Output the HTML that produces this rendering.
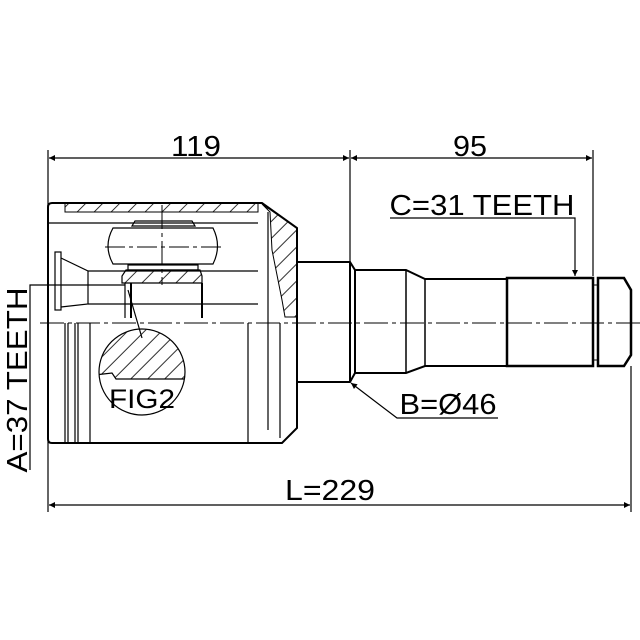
<!DOCTYPE html>
<html><head><style>body{margin:0;background:#fff}svg{display:block}text{font-family:"Liberation Sans",sans-serif;fill:#000}</style></head><body>
<svg width="640" height="640" viewBox="0 0 640 640" xmlns="http://www.w3.org/2000/svg">
<defs>
<pattern id="h" patternUnits="userSpaceOnUse" width="12" height="12" patternTransform="rotate(45)"><line x1="0" y1="0" x2="0" y2="12" stroke="#000" stroke-width="1.6"/></pattern>
<marker id="a" viewBox="0 0 10 10" refX="10" refY="5" markerWidth="14" markerHeight="6" orient="auto-start-reverse" markerUnits="userSpaceOnUse"><path d="M0,0L10,5L0,10z"/></marker>
</defs>
<g stroke="#000" fill="none" stroke-width="1.2">
<line x1="48" y1="150" x2="48" y2="512"/>
<line x1="350" y1="150" x2="350" y2="262"/>
<line x1="593" y1="150" x2="593" y2="276"/>
<line x1="631" y1="366" x2="631" y2="512"/>
<line x1="49" y1="158" x2="349" y2="158" marker-start="url(#a)" marker-end="url(#a)"/>
<line x1="351" y1="158" x2="592" y2="158" marker-start="url(#a)" marker-end="url(#a)"/>
<line x1="49" y1="505" x2="630" y2="505" marker-start="url(#a)" marker-end="url(#a)"/>
<polyline points="390,218 575,218 575,276" marker-end="url(#a)"/>
<polyline points="498,418 397,418 351,383" marker-end="url(#a)"/>
<polyline points="30,470 30,285 125,285"/>
<line x1="40" y1="323" x2="640" y2="323" stroke-dasharray="24,4,4,4" stroke-width="1"/>
<line x1="162" y1="205" x2="162" y2="285" stroke-dasharray="24,4,4,4" stroke-width="1"/>
<line x1="105" y1="247" x2="225" y2="247" stroke-dasharray="20,4,4,4" stroke-width="1"/>
</g>
<g stroke="#000" stroke-width="2" fill="none">
<path d="M52,203 L262,203 L297,228 L297,428 L282,443 L52,443 Q48,443 48,439 L48,207 Q48,203 52,203z"/>
<path d="M297,262 L350,262 L355,270 L406,270 L425,279 L507,279 L507,366 L425,366 L406,373 L355,373 L350,382 L297,382"/>
<line x1="350" y1="262" x2="350" y2="382"/>
<line x1="355" y1="270" x2="355" y2="373"/>
<line x1="406" y1="270" x2="406" y2="373" stroke-width="1.5"/>
<line x1="425" y1="279" x2="425" y2="366" stroke-width="1.5"/>
<rect x="507" y="278" width="86" height="88" stroke-width="2.5"/>
<line x1="593" y1="285" x2="598" y2="285" stroke-width="1"/>
<line x1="593" y1="360" x2="598" y2="360" stroke-width="1"/>
<path d="M598,278 L624,278 L631,290 L631,355 L624,366 L598,366 Z" stroke-width="2.5"/>
</g>
<path d="M65,203 L258,203 L258,212 L65,212z" fill="url(#h)" stroke="#000" stroke-width="1"/>
<path d="M262,204 L297,228 L297,317 L285,317 L282,300 L272,250 L270,212z" fill="url(#h)" stroke="#000" stroke-width="1"/>
<path d="M126,270 L200,270 L202,276 L202,283 L122,283 L122,276z" fill="url(#h)" stroke="#000" stroke-width="1.2"/>
<g stroke="#000" stroke-width="1.2" fill="none">
<line x1="48" y1="223" x2="258" y2="223"/>
<line x1="88" y1="271" x2="258" y2="271"/>
<line x1="88" y1="304" x2="258" y2="304"/>
<line x1="202" y1="283" x2="202" y2="318" stroke-width="2"/>
<line x1="125" y1="283" x2="125" y2="318"/>
<line x1="131" y1="283" x2="131" y2="318" stroke-width="2"/>
<line x1="268" y1="212" x2="268" y2="430"/>
<line x1="280" y1="323" x2="280" y2="438"/>
<path d="M132,226 L195,226 L192,221 L135,221 Z"/>
<path d="M113,228 Q103,246 113,264 L213,264 Q222,246 213,228 Z"/>
<rect x="128" y="265" width="70" height="5"/>
<rect x="55" y="252" width="6" height="58"/>
<path d="M61,258 L88,271 L88,304 L61,307"/>
<line x1="65" y1="323" x2="65" y2="443"/>
<line x1="68" y1="323" x2="68" y2="443"/>
<line x1="75" y1="323" x2="75" y2="443"/>
<line x1="78" y1="323" x2="78" y2="443"/>
<line x1="90" y1="323" x2="90" y2="443"/>
<line x1="248" y1="323" x2="248" y2="443"/>
<line x1="128" y1="290" x2="142" y2="338"/>
<circle cx="142" cy="372" r="43"/>
</g>
<clipPath id="c"><circle cx="142" cy="372" r="43"/></clipPath>
<path d="M95,375 L112,373 L116,379 L190,379 L190,320 L95,320z" fill="url(#h)" stroke="#000" stroke-width="1.2" clip-path="url(#c)"/>
<text x="142" y="408" font-size="27" text-anchor="middle" textLength="66" lengthAdjust="spacingAndGlyphs">FIG2</text>
<text x="196" y="156" font-size="29" text-anchor="middle" textLength="50" lengthAdjust="spacingAndGlyphs">119</text>
<text x="470" y="156" font-size="29" text-anchor="middle" textLength="34" lengthAdjust="spacingAndGlyphs">95</text>
<text x="330" y="500" font-size="29" text-anchor="middle" textLength="90" lengthAdjust="spacingAndGlyphs">L=229</text>
<text x="482" y="215" font-size="29" text-anchor="middle" textLength="185" lengthAdjust="spacingAndGlyphs">C=31 TEETH</text>
<text x="448" y="414" font-size="29" text-anchor="middle" textLength="97" lengthAdjust="spacingAndGlyphs">B=Ø46</text>
<text transform="translate(27,380) rotate(-90)" font-size="29" text-anchor="middle" textLength="185" lengthAdjust="spacingAndGlyphs">A=37 TEETH</text>
</svg>
</body></html>
